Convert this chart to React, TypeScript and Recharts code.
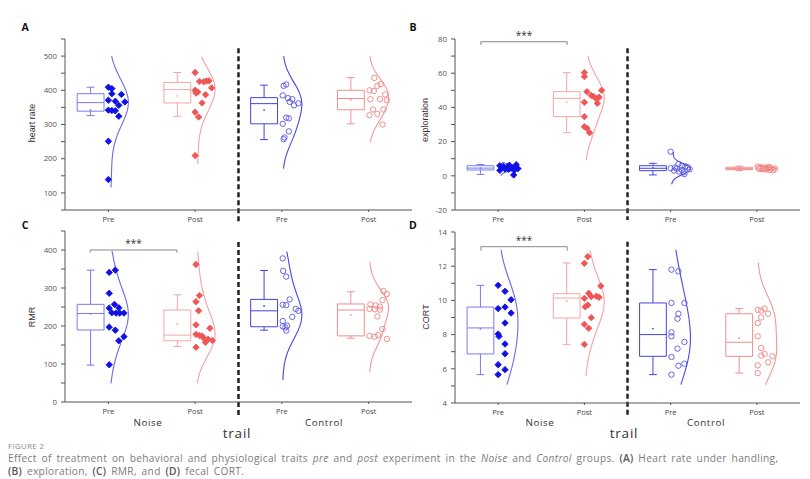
import React from 'react'
import { ComposedChart, XAxis, YAxis, Scatter, Line, ReferenceArea, ReferenceLine, ReferenceDot } from 'recharts'

// group order in every panel: Noise Pre, Noise Post, Control Pre, Control Post
const xLabels = ['Pre', 'Post', 'Pre', 'Post']
const catTicks = [0.5, 1.5, 2.5, 3.5]

// points: [value, jitter to the right of the category centre]
const hrNoisePre = [[409, 0], [405, 0.04], [390, 0.04], [388, 0.15], [371, 0], [368, 0.08], [366, 0.19], [356, 0.12], [342, 0], [341, 0.04], [340, 0.08], [324, 0.12], [251, 0], [139, 0]]
const hrNoisePost = [[452, 0], [426, 0.05], [425, 0.1], [427, 0.13], [428, 0.16], [407, 0.19], [400, 0], [395, 0.03], [392, 0.01], [387, 0.12], [363, 0.08], [336, 0], [322, 0.04], [209, 0]]
const hrControlPre = [[417, 0.05], [413, 0.02], [385, 0.01], [377, 0.07], [374, 0.12], [366, 0.09], [362, 0.19], [356, 0.14], [320, 0.05], [318, 0.08], [302, 0.01], [280, 0.08], [262, 0.03], [257, 0.02]]
const hrControlPost = [[436, 0.065], [418, 0.14], [413, 0.1], [400, 0.01], [398, 0.06], [388, 0.19], [374, 0.13], [374, 0.02], [371, 0.21], [344, 0.05], [344, 0.17], [331, 0.1], [327, 0.01], [300, 0.16]]
// box: [low whisker, q1, median, q3, high whisker]
const hrBoxes = [[326, 339, 364, 390, 409], [324, 363, 402, 423, 452], [256, 302, 361, 378.5, 415], [302, 343, 376, 400, 437]]
const hrCurveRange = [[116, 500], [184, 498], [171, 500], [248, 500]]
const hrTicks = [50, 100, 150, 200, 250, 300, 350, 400, 450, 500, 550]

const exNoisePre = [[5.9, 0.02], [5.5, 0.06], [5.0, 0.1], [6.2, 0.13], [6.5, 0.21], [3.4, 0.19], [4.4, 0.15], [4.0, 0.08], [3.2, 0.02], [4.2, 0.23], [0.5, 0.18], [5.2, 0.04], [3.8, 0.12], [4.6, 0.17]]
const exNoisePost = [[60.3, 0], [58, 0], [49.2, 0.03], [50, 0.2], [47, 0.08], [46.3, 0.11], [45, 0.14], [45.9, 0.17], [43, 0], [42.4, 0.15], [34.6, 0], [28.7, 0], [27.8, 0.03], [25.2, 0.06]]
const exControlPre = [[14.1, 0], [6.9, 0.09], [5.8, 0.13], [5.5, 0.17], [5.0, 0.2], [4.4, 0], [4.2, 0.07], [3.8, 0.22], [3.4, 0.13], [3.0, 0.04], [2.5, 0.1], [2.0, 0.15], [1.0, 0.16], [4.8, 0.05]]
const exControlPost = [[5.4, 0.01], [5.0, 0.05], [4.8, 0.09], [4.6, 0.13], [4.4, 0.17], [4.2, 0.21], [4.0, 0.03], [3.8, 0.07], [3.6, 0.11], [3.4, 0.15], [3.2, 0.19], [4.5, 0.02], [4.1, 0.1], [5.2, 0.14]]
const exBoxes = [[0.8, 3.4, 4.5, 5.9, 6.6], [25.2, 34.6, 45.3, 49.2, 60.3], [0.5, 3.0, 4.4, 5.9, 7.3], [3.0, 3.6, 4.2, 5.0, 5.6]]
const exCurveRange = [[0, 8], [9.2, 70], [-5, 14], [2.5, 6.5]]
const exTicks = [-20, -10, 0, 10, 20, 30, 40, 50, 60, 70, 80]

const rmrNoisePre = [[341, 0.01], [347, 0.08], [286, 0.01], [257, 0.07], [247, 0.01], [248, 0.12], [235, 0.04], [234, 0.09], [234, 0.13], [234, 0.18], [197, 0.01], [189, 0.08], [172, 0.18], [161, 0.12], [98, 0.01]]
const rmrNoisePost = [[362, 0.01], [280, 0.05], [264, 0.01], [240, 0.04], [203, 0.01], [194, 0.17], [178, 0.01], [175, 0.05], [174, 0.08], [165, 0.15], [162, 0.2], [157, 0.12], [168, 0.1], [144, 0.01]]
const rmrControlPre = [[378, 0.01], [345, 0.015], [330, 0.05], [270, 0.09], [256, 0.01], [255, 0.05], [245, 0.16], [240, 0.19], [224, 0.12], [213, 0.01], [201, 0.06], [199, 0.01], [196, 0.04], [188, 0.05]]
const rmrControlPost = [[292, 0.17], [284, 0.21], [268, 0.16], [257, 0.02], [254, 0.08], [251, 0.13], [245, 0.01], [244, 0.07], [243, 0.13], [225, 0.1], [192, 0.16], [174, 0.01], [172, 0.07], [176, 0.11], [166, 0.21]]
const rmrBoxes = [[97, 189.5, 233, 257, 347], [146, 161, 176, 242, 282], [189, 198, 240, 270, 346], [168, 174, 242, 258, 290]]
const rmrCurveRange = [[49, 398], [49, 396], [58, 396], [80, 369]]
const rmrTicks = [0, 50, 100, 150, 200, 250, 300, 350, 400, 450]

const cortNoisePre = [[10.88, 0], [10.53, 0.08], [10.04, 0.15], [9.61, 0.08], [9.52, 0], [9.26, 0.15], [8.68, 0.08], [8.03, 0], [7.9, 0.01], [7.45, 0.08], [6.88, 0.08], [6.24, 0], [5.95, 0.08], [5.66, 0]]
const cortNoisePost = [[12.56, 0.04], [12.17, 0], [10.84, 0.19], [10.42, 0.05], [10.12, 0], [10.22, 0.08], [10.25, 0.14], [10.18, 0.17], [9.73, 0.04], [9.63, 0.01], [8.99, 0.08], [8.6, 0], [8.37, 0.05], [7.43, 0]]
const cortControlPre = [[11.8, 0.01], [11.7, 0.09], [9.85, 0.01], [9.85, 0.16], [9.22, 0.09], [8.93, 0.08], [8.13, 0.01], [7.9, 0.01], [7.57, 0.16], [7.18, 0.08], [6.69, 0.01], [6.3, 0.16], [6.18, 0.09], [5.66, 0.01]]
const cortControlPost = [[9.4, 0.05], [9.45, 0.01], [9.52, 0.09], [9.22, 0.13], [9.0, 0.05], [8.68, 0.01], [7.9, 0.01], [7.22, 0.05], [6.87, 0.09], [6.77, 0.05], [6.73, 0.18], [6.38, 0.13], [6.2, 0.01], [5.75, 0.01]]
const cortBoxes = [[5.66, 6.87, 8.39, 9.61, 10.88], [7.41, 8.97, 10.14, 10.39, 12.19], [5.66, 6.73, 8.0, 9.85, 11.8], [5.75, 6.73, 7.55, 9.22, 9.52]]
const cortCurveRange = [[5.07, 12.96], [5.56, 12.96], [5.07, 12.96], [5.07, 12.19]]
const cortTicks = [4, 5, 6, 7, 8, 9, 10, 11, 12, 13, 14]

const pointColors = ['#1010e6', '#f05656', '#5656e6', '#f08282']
const boxColors = ['#7a7af0', '#f4a4a4', '#4444e0', '#f08e8e']
const curveColors = ['#6a6aea', '#f4a2a2', '#4646e2', '#f29898']

const font = '"Open Sans", "Liberation Sans", Arial, sans-serif'
const axisColor = '#555'

// half-violin: kernel density of the group's own points
function halfViolin(points: number[][], range: number[], centre: number) {
  const vals = points.map((p) => p[0])
  const n = vals.length
  const mean = vals.reduce((a, b) => a + b, 0) / n
  const sd = Math.sqrt(vals.reduce((a, b) => a + (b - mean) ** 2, 0) / (n - 1))
  const h = 0.85 * sd
  const steps = 90
  const raw: { y: number; d: number }[] = []
  for (let i = 0; i <= steps; i++) {
    const y = range[0] + ((range[1] - range[0]) * i) / steps
    let d = 0
    for (const v of vals) d += Math.exp(-0.5 * ((y - v) / h) ** 2)
    raw.push({ y, d })
  }
  const max = Math.max(...raw.map((r) => r.d))
  return raw.map((r) => ({ x: centre + 0.01 + (0.22 * r.d) / max, y: r.y }))
}

const Diamond = (p: any) => {
  const { cx, cy, fill } = p
  const s = 3.2
  return <polygon points={`${cx},${cy - s} ${cx + s},${cy} ${cx},${cy + s} ${cx - s},${cy}`} fill={fill} stroke={fill} strokeWidth={0.9} strokeLinejoin="round" />
}
const Ring = (p: any) => <circle cx={p.cx} cy={p.cy} r={2.7} fill="none" stroke={p.fill} strokeWidth={0.9} />

type PanelProps = {
  left: number
  top: number
  width: number
  height: number
  marginTop: number
  marginRight: number
  yWidth: number
  domain: [number, number]
  ticks: number[]
  major: number
  groups: number[][][]
  boxes: number[][]
  ranges: number[][]
  dash: [number, number]
  bracket?: { x1: number; x2: number; y: number; drop: number }
}

function Panel(props: PanelProps) {
  const { left, top, width, height, marginTop, marginRight, yWidth, domain, ticks, major, groups, boxes, ranges, dash, bracket } = props
  const fmt = (v: number) => (Math.abs(v / major - Math.round(v / major)) < 1e-6 ? String(v) : '')
  return (
    <div style={{ position: 'absolute', left, top }}>
      <ComposedChart width={width} height={height} margin={{ top: marginTop, right: marginRight, left: 0, bottom: 0 }}>
        <XAxis
          type="number"
          dataKey="x"
          domain={[0, 4]}
          ticks={catTicks}
          tickFormatter={(v: number) => xLabels[Math.floor(v)]}
          height={20}
          tickSize={2}
          tickMargin={5}
          axisLine={{ stroke: axisColor }}
          tickLine={{ stroke: axisColor }}
          tick={{ fontSize: 7.5, fill: '#444', fontFamily: font }}
        />
        <YAxis
          type="number"
          dataKey="y"
          domain={domain}
          ticks={ticks}
          interval={0}
          tickFormatter={fmt}
          width={yWidth}
          tickSize={4}
          tickMargin={4}
          axisLine={{ stroke: axisColor }}
          tickLine={{ stroke: axisColor }}
          tick={{ fontSize: 7.8, fill: '#555', fontFamily: font }}
        />
        {boxes.map((b, i) => {
          const c = i + 0.5
          const wx = c - 0.205
          const col = boxColors[i]
          const vals = groups[i].map((p) => p[0])
          const mean = vals.reduce((a, v) => a + v, 0) / vals.length
          return (
            <React.Fragment key={`box-${i}`}>
              <ReferenceArea x1={c - 0.36} x2={c - 0.05} y1={b[1]} y2={b[3]} fill="none" fillOpacity={0} stroke={col} strokeWidth={1} />
              <ReferenceLine segment={[{ x: c - 0.36, y: b[2] }, { x: c - 0.05, y: b[2] }]} stroke={col} strokeWidth={1} />
              <ReferenceLine segment={[{ x: wx, y: b[3] }, { x: wx, y: b[4] }]} stroke={col} strokeWidth={1} />
              <ReferenceLine segment={[{ x: wx, y: b[0] }, { x: wx, y: b[1] }]} stroke={col} strokeWidth={1} />
              <ReferenceLine segment={[{ x: wx - 0.045, y: b[4] }, { x: wx + 0.045, y: b[4] }]} stroke={col} strokeWidth={1} />
              <ReferenceLine segment={[{ x: wx - 0.045, y: b[0] }, { x: wx + 0.045, y: b[0] }]} stroke={col} strokeWidth={1} />
              <ReferenceDot x={wx} y={mean} r={0.9} fill={col} stroke="none" />
            </React.Fragment>
          )
        })}
        {groups.map((g, i) => (
          <Line
            key={`curve-${i}`}
            data={halfViolin(g, ranges[i], i + 0.5)}
            dataKey="y"
            type="linear"
            stroke={curveColors[i]}
            strokeWidth={1.1}
            dot={false}
            isAnimationActive={false}
          />
        ))}
        {groups.map((g, i) => (
          <Scatter
            key={`pts-${i}`}
            data={g.map((p) => ({ x: i + 0.5 + p[1], y: p[0] }))}
            dataKey="y"
            fill={pointColors[i]}
            shape={i < 2 ? Diamond : Ring}
            isAnimationActive={false}
          />
        ))}
        <ReferenceLine
          segment={[{ x: 2, y: dash[0] }, { x: 2, y: dash[1] }]}
          stroke="#222"
          strokeWidth={2.5}
          strokeDasharray="5 3"
          ifOverflow="visible"
        />
        {bracket && (
          <>
            <ReferenceLine segment={[{ x: bracket.x1, y: bracket.y }, { x: bracket.x2, y: bracket.y }]} stroke="#888" strokeWidth={1} ifOverflow="visible" />
            <ReferenceLine segment={[{ x: bracket.x1, y: bracket.y }, { x: bracket.x1, y: bracket.drop }]} stroke="#888" strokeWidth={1} ifOverflow="visible" />
            <ReferenceLine segment={[{ x: bracket.x2, y: bracket.y }, { x: bracket.x2, y: bracket.drop }]} stroke="#888" strokeWidth={1} ifOverflow="visible" />
            <ReferenceDot
              x={(bracket.x1 + bracket.x2) / 2}
              y={bracket.y}
              r={0}
              fill="none"
              stroke="none"
              ifOverflow="visible"
              label={{ value: '***', position: 'top', offset: 3, fontSize: 10, fill: '#333', fontFamily: font }}
            />
          </>
        )}
      </ComposedChart>
    </div>
  )
}

const abs = (x: number, y: number, extra: React.CSSProperties = {}): React.CSSProperties => ({
  position: 'absolute',
  left: x,
  top: y,
  transform: 'translate(-50%, -50%)',
  whiteSpace: 'nowrap',
  fontFamily: font,
  ...extra,
})

export default function App() {
  const yTitle = { fontSize: 9, color: '#333', fontFamily: '"Liberation Sans Narrow", "Liberation Sans", Arial, sans-serif' }
  const bold = { color: '#555', fontWeight: 600 }
  const capLine: React.CSSProperties = {
    position: 'absolute',
    left: 8,
    height: 13,
    fontSize: 10.2,
    lineHeight: '13px',
    letterSpacing: 0.32,
    wordSpacing: 1.8,
    color: '#7c7c7c',
    whiteSpace: 'nowrap',
    fontFamily: font,
  }
  return (
    <div style={{ position: 'absolute', left: 0, top: 0, width: 810, height: 479, background: '#fff', overflow: 'hidden' }}>
      <Panel
        left={0} top={0} width={420} height={230} marginTop={39} marginRight={8} yWidth={65}
        domain={[50, 550]} ticks={hrTicks} major={100}
        groups={[hrNoisePre, hrNoisePost, hrControlPre, hrControlPost]}
        boxes={hrBoxes} ranges={hrCurveRange} dash={[523, 15]}
      />
      <Panel
        left={400} top={0} width={410} height={230} marginTop={39} marginRight={10} yWidth={55}
        domain={[-20, 80]} ticks={exTicks} major={20}
        groups={[exNoisePre, exNoisePost, exControlPre, exControlPost]}
        boxes={exBoxes} ranges={exCurveRange} dash={[74.6, -25.8]}
        bracket={{ x1: 0.3, x2: 1.3, y: 78.4, drop: 76.6 }}
      />
      <Panel
        left={0} top={200} width={420} height={222} marginTop={31} marginRight={8} yWidth={65}
        domain={[0, 450]} ticks={rmrTicks} major={100}
        groups={[rmrNoisePre, rmrNoisePost, rmrControlPre, rmrControlPost]}
        boxes={rmrBoxes} ranges={rmrCurveRange} dash={[421, -39]}
        bracket={{ x1: 0.29, x2: 1.29, y: 400, drop: 393 }}
      />
      <Panel
        left={400} top={200} width={410} height={223} marginTop={32} marginRight={10} yWidth={55}
        domain={[4, 14]} ticks={cortTicks} major={2}
        groups={[cortNoisePre, cortNoisePost, cortControlPre, cortControlPost]}
        boxes={cortBoxes} ranges={cortCurveRange} dash={[13.43, 3.18]}
        bracket={{ x1: 0.3, x2: 1.3, y: 13.14, drop: 12.9 }}
      />

      <div style={abs(25, 27, { fontSize: 10.5, fontWeight: 700, color: '#111' })}>A</div>
      <div style={abs(413, 27, { fontSize: 10.5, fontWeight: 700, color: '#111' })}>B</div>
      <div style={abs(25, 225, { fontSize: 10.5, fontWeight: 700, color: '#111' })}>C</div>
      <div style={abs(413, 225, { fontSize: 10.5, fontWeight: 700, color: '#111' })}>D</div>

      <div style={abs(32, 123, { ...yTitle, transform: 'translate(-50%, -50%) rotate(-90deg)' })}>heart rate</div>
      <div style={abs(425, 120, { ...yTitle, transform: 'translate(-50%, -50%) rotate(-90deg)' })}>exploration</div>
      <div style={abs(32, 317, { ...yTitle, transform: 'translate(-50%, -50%) rotate(-90deg)' })}>RMR</div>
      <div style={abs(426, 317, { ...yTitle, transform: 'translate(-50%, -50%) rotate(-90deg)' })}>CORT</div>

      <div style={abs(148, 422, { fontSize: 9.8, color: '#333', letterSpacing: 0.6 })}>Noise</div>
      <div style={abs(324, 422, { fontSize: 9.8, color: '#333', letterSpacing: 0.6 })}>Control</div>
      <div style={abs(540, 422, { fontSize: 9.8, color: '#333', letterSpacing: 0.6 })}>Noise</div>
      <div style={abs(706, 422, { fontSize: 9.8, color: '#333', letterSpacing: 0.6 })}>Control</div>
      <div style={abs(237, 433, { fontSize: 13.5, color: '#333', letterSpacing: 0.8 })}>trail</div>
      <div style={abs(624, 433, { fontSize: 13.5, color: '#333', letterSpacing: 0.8 })}>trail</div>

      <div style={{ position: 'absolute', left: 8, top: 441, fontSize: 7.8, lineHeight: '10px', color: '#888', letterSpacing: 0.4, fontFamily: font }}>FIGURE 2</div>
      <div style={{ ...capLine, top: 452 }}>
        Effect of treatment on behavioral and physiological traits <i>pre</i> and <i>post</i> experiment in the <i>Noise</i> and <i>Control</i> groups.{' '}
        <b style={bold}>(A)</b> Heart rate under handling,
      </div>
      <div style={{ ...capLine, top: 465 }}>
        <b style={bold}>(B)</b> exploration, <b style={bold}>(C)</b> RMR, and <b style={bold}>(D)</b> fecal CORT.
      </div>
    </div>
  )
}
